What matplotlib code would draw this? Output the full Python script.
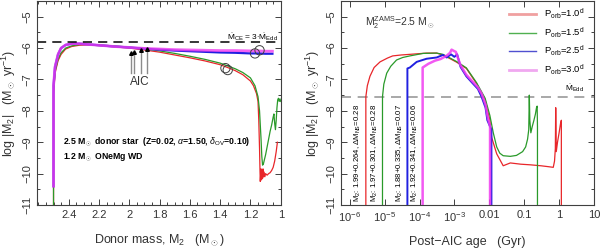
import numpy as np
import matplotlib
matplotlib.use("Agg")
import matplotlib.pyplot as plt
from matplotlib.ticker import MultipleLocator, LogLocator, NullFormatter

plt.rcParams['font.family'] = ['Liberation Sans', 'DejaVu Sans']
plt.rcParams['mathtext.fontset'] = 'custom'
plt.rcParams['mathtext.rm'] = 'Liberation Sans'
plt.rcParams['mathtext.it'] = 'Liberation Sans:italic'
plt.rcParams['mathtext.bf'] = 'Liberation Sans:bold'

# ---------------- data: left panel (log|Mdot2| vs donor mass) ----------------
red_m2 = [2.5, 2.5, 2.49, 2.47, 2.45, 2.42, 2.38, 2.33, 2.28, 2.2, 2.1, 2.0, 1.9, 1.8, 1.7,
          1.6, 1.5, 1.4, 1.35, 1.3, 1.25, 1.2, 1.18, 1.16, 1.15, 1.145, 1.14, 1.137, 1.135,
          1.13, 1.127, 1.124, 1.12, 1.117, 1.114, 1.11, 1.105, 1.10, 1.09, 1.08, 1.07, 1.06,
          1.05, 1.04, 1.03, 1.022]
red_y = [-11.0, -7.5, -6.8, -6.4, -6.2, -6.03, -5.95, -5.91, -5.9, -5.92, -5.96, -6.0, -6.06,
         -6.13, -6.22, -6.31, -6.41, -6.53, -6.62, -6.72, -6.85, -7.05, -7.2, -7.45, -7.7,
         -8.3, -9.2, -9.9, -10.25, -9.85, -10.2, -9.9, -10.15, -9.85, -10.1, -9.95, -10.1,
         -10.0, -10.05, -10.0, -9.97, -9.9, -9.8, -9.6, -9.3, -9.0]

green_m2 = [2.5, 2.5, 2.49, 2.47, 2.45, 2.42, 2.38, 2.33, 2.28, 2.2, 2.1, 2.0, 1.9, 1.8, 1.7,
            1.6, 1.5, 1.4, 1.35, 1.3, 1.25, 1.2, 1.17, 1.15, 1.14, 1.13, 1.125, 1.12, 1.115,
            1.11, 1.1, 1.09, 1.08, 1.07, 1.06, 1.05, 1.045, 1.04, 1.035, 1.03, 1.025, 1.02,
            1.015, 1.01, 1.005, 1.0]
green_y = [-11.0, -7.4, -6.75, -6.35, -6.15, -6.0, -5.93, -5.89, -5.88, -5.9, -5.93, -5.97,
           -6.02, -6.09, -6.17, -6.26, -6.36, -6.48, -6.57, -6.66, -6.78, -6.95, -7.2, -7.55,
           -8.0, -8.9, -9.45, -9.73, -9.7, -9.6, -9.4, -9.15, -8.9, -8.65, -8.45, -8.2, -8.1,
           -8.4, -8.6, -8.3, -7.9, -7.65, -7.6, -7.7, -7.62, -7.7]

blue_m2 = [2.5, 2.5, 2.49, 2.47, 2.45, 2.42, 2.38, 2.33, 2.28, 2.2, 2.1, 2.0, 1.9, 1.8, 1.7,
           1.6, 1.5, 1.4, 1.3, 1.2, 1.15, 1.1, 1.055]
blue_y = [-10.4, -7.2, -6.6, -6.2, -6.0, -5.9, -5.86, -5.86, -5.88, -5.91, -5.95, -5.98,
          -6.02, -6.05, -6.08, -6.1, -6.12, -6.14, -6.15, -6.17, -6.17, -6.18, -6.18]

mag_m2 = [2.5, 2.5, 2.49, 2.47, 2.45, 2.42, 2.38, 2.33, 2.28, 2.2, 2.1, 2.0, 1.9, 1.8, 1.7,
          1.6, 1.5, 1.4, 1.3, 1.2, 1.15, 1.1, 1.055]
mag_y = [-10.4, -7.2, -6.6, -6.2, -6.0, -5.9, -5.86, -5.86, -5.88, -5.91, -5.95, -5.98,
         -6.01, -6.03, -6.05, -6.06, -6.07, -6.08, -6.08, -6.09, -6.09, -6.1, -6.1]

circle_m2 = [1.365, 1.35, 1.17, 1.14]
circle_y = [-6.64, -6.7, -6.17, -6.07]

aic_m2 = [1.99, 1.97, 1.92, 1.88]
aic_tip = [-6.15, -6.12, -6.07, -6.02]
aic_base = -6.78

mdot_ce = -5.81

# ---------------- data: right panel (log|Mdot2| vs post-AIC age) ----------------
red_t = [2.9e-6, 2.9e-6, 3.2e-6, 3.8e-6, 5e-6, 7.4e-6, 1.2e-5, 1.7e-5, 3e-5, 5.3e-5, 1.6e-4,
         3.1e-4, 4.7e-4, 7e-4, 1.16e-3, 2.2e-3, 4.3e-3, 7.6e-3, 1.04e-2, 1.17e-2, 1.63e-2,
         2.5e-2, 4e-2, 8e-2, 0.15, 0.3, 0.5, 0.68, 0.74, 0.78, 0.8, 0.83, 0.9, 1.0, 1.1, 1.16,
         1.16]
red_r = [-11.0, -7.55, -7.2, -6.9, -6.62, -6.44, -6.32, -6.25, -6.22, -6.2, -6.16, -6.16,
         -6.22, -6.32, -6.45, -6.65, -7.13, -7.65, -8.3, -8.85, -9.37, -9.75, -9.66, -9.7,
         -9.72, -9.75, -9.78, -9.8, -9.6, -9.2, -7.9, -9.3, -9.0, -8.7, -8.4, -8.3, -11.0]

green_t = [8.7e-6, 8.7e-6, 9.5e-6, 1.15e-5, 1.5e-5, 2.2e-5, 3.3e-5, 5.3e-5, 1.27e-4, 3.1e-4,
           4.7e-4, 7e-4, 1.16e-3, 2.2e-3, 4.3e-3, 7.6e-3, 1.04e-2, 1.3e-2, 1.63e-2, 2e-2,
           2.5e-2, 4e-2, 6e-2, 9e-2, 0.11, 0.125, 0.135, 0.14, 0.145, 0.155, 0.17, 0.19, 0.21,
           0.225, 0.235, 0.24, 0.24]
green_r = [-11.0, -7.55, -7.15, -6.8, -6.58, -6.38, -6.3, -6.25, -6.17, -6.16, -6.2, -6.3,
           -6.43, -6.63, -7.1, -7.6, -8.15, -8.7, -9.15, -9.35, -9.43, -9.45, -9.42, -9.3,
           -9.15, -8.9, -8.6, -7.5, -8.3, -8.7, -8.5, -8.3, -8.1, -7.9, -7.85, -8.5, -11.0]

blue_t = [4.5e-5, 4.5e-5, 5.3e-5, 8.3e-5, 1.6e-4, 3.1e-4, 4.7e-4, 6e-4, 8e-4, 1.0e-3, 1.2e-3,
          1.5e-3, 2.2e-3, 3.2e-3, 4.7e-3, 6e-3, 7.8e-3, 8.8e-3, 1.15e-2, 1.15e-2]
blue_r = [-11.0, -6.65, -6.62, -6.44, -6.34, -6.3, -6.22, -6.3, -6.2, -6.28, -6.2, -6.6,
          -6.9, -7.1, -7.3, -7.55, -7.9, -8.3, -8.6, -11.0]

mag_t = [1.23e-4, 1.23e-4, 1.4e-4, 1.8e-4, 2.8e-4, 4e-4, 5.9e-4, 7.5e-4, 8.3e-4, 1.0e-3,
         1.1e-3, 1.2e-3, 1.5e-3, 2.2e-3, 3.2e-3, 4.7e-3, 6e-3, 7.8e-3, 9e-3, 1.05e-2, 1.05e-2]
mag_r = [-11.0, -6.62, -6.58, -6.5, -6.4, -6.35, -6.25, -6.15, -6.05, -6.1, -6.12, -6.25,
         -6.55, -6.85, -7.05, -7.25, -7.45, -7.8, -8.2, -8.5, -11.0]

mdot_edd = -7.55

label_t = [1.75e-6, 5.4e-6, 2.7e-5, 7.4e-5]
label_txt = [r'M$_2$: 1.99+0.264, $\Delta$M$_{\rm NS}$=0.28',
             r'M$_2$: 1.97+0.301, $\Delta$M$_{\rm NS}$=0.28',
             r'M$_2$: 1.88+0.335, $\Delta$M$_{\rm NS}$=0.07',
             r'M$_2$: 1.92+0.341, $\Delta$M$_{\rm NS}$=0.06']

porb_labels = [r'P$_{\rm orb}$=1.0$^{\rm d}$', r'P$_{\rm orb}$=1.5$^{\rm d}$',
               r'P$_{\rm orb}$=2.5$^{\rm d}$', r'P$_{\rm orb}$=3.0$^{\rm d}$']

xt_right = [1e-6, 1e-5, 1e-4, 1e-3, 1e-2, 1e-1, 1, 10]
xt_right_lab = [r'10$^{-6}$', r'10$^{-5}$', r'10$^{-4}$', r'10$^{-3}$', '0.01', '0.1', '1', '10']

# colours
c_red = '#e8262a'
c_green = '#2a9a2a'
c_blue = '#2020e0'
c_mag = '#f03cf0'
leg_cols = ['#f0a0a0', '#50b050', '#5050d0', '#f0a8f0']

frame_col = '0.25'
fs_tick = 8

fig = plt.figure(figsize=(6.0, 2.48), dpi=100)
axL = fig.add_axes([0.0622, 0.1734, 0.4057, 0.8226])
axR = fig.add_axes([0.5683, 0.1734, 0.4217, 0.8226])


def style(ax):
    for s in ax.spines.values():
        s.set_color(frame_col)
        s.set_linewidth(0.8)
    ax.tick_params(which='both', direction='in', top=True, right=True, colors=frame_col,
                   labelcolor='0.2', labelsize=fs_tick, width=0.7)
    ax.tick_params(which='major', length=4)
    ax.tick_params(which='minor', length=2)
    ax.set_ylim(-11, -4.5)
    ax.yaxis.set_major_locator(MultipleLocator(1))
    ax.yaxis.set_minor_locator(MultipleLocator(0.5))
    ax.set_ylabel(r'log |$\dot{\rm M}_2$|   (M$_\odot$ yr$^{-1}$)', fontsize=9, color='0.2',
                  labelpad=3)

# ---- left panel ----
style(axL)
axL.set_xlim(2.607, 1.0)
axL.xaxis.set_minor_locator(MultipleLocator(0.05))
axL.set_xticks([2.4, 2.2, 2.0, 1.8, 1.6, 1.4, 1.2, 1.0])
axL.set_xticklabels(['2.4', '2.2', '2', '1.8', '1.6', '1.4', '1.2', '1'])
for lab in axL.get_yticklabels():
    lab.set_rotation(90)
    lab.set_va('center')

axL.plot(red_m2, red_y, color=c_red, lw=0.9)
axL.plot(green_m2, green_y, color=c_green, lw=0.9)
axL.plot(blue_m2, blue_y, color=c_blue, lw=1.6)
axL.plot(mag_m2, mag_y, color=c_mag, lw=2.0, alpha=0.8)
axL.axhline(mdot_ce, color='k', lw=1.1, ls=(0, (6, 4)))
axL.scatter(circle_m2, circle_y, s=45, facecolors='none', edgecolors='0.25', lw=0.7, zorder=5)
for m, tip in zip(aic_m2, aic_tip):
    axL.plot([m, m], [aic_base, tip], color='0.55', lw=1.0)
    axL.plot([m], [tip], marker='^', color='k', ms=2.6)
axL.text(1.93, -7.08, 'AIC', fontsize=8.5, ha='center', va='center', color='0.2')
axL.text(1.018, -5.66, r'$\dot{\rm M}_{\rm CE}$ = 3$\cdot\dot{\rm M}_{\rm Edd}$', fontsize=6,
         ha='right', va='center')
axL.text(2.437, -8.99,
         r'2.5 M$_\odot$ donor star  (Z=0.02, $\alpha$=1.50, $\delta_{\rm OV}$=0.10)',
         fontsize=6.3, ha='left', va='center', fontweight='bold')
axL.text(2.437, -9.47, r'1.2 M$_\odot$ ONeMg WD', fontsize=6.3, ha='left', va='center',
         fontweight='bold')
axL.set_xlabel(r'Donor mass, M$_2$   (M$_\odot$)', fontsize=9, color='0.2', labelpad=9)

# ---- right panel ----
style(axR)
axR.set_xscale('log')
axR.set_xlim(10 ** -6.25, 10)
axR.xaxis.set_minor_locator(LogLocator(base=10, subs=np.arange(2, 10)))
axR.xaxis.set_minor_formatter(NullFormatter())
axR.set_xticks(xt_right)
axR.set_xticklabels(xt_right_lab)
for lab in axR.get_yticklabels():
    lab.set_rotation(90)
    lab.set_va('center')

axR.axhline(mdot_edd, color='0.6', lw=1.2, ls=(0, (6, 4)))
axR.plot(red_t, red_r, color=c_red, lw=0.9)
axR.plot(green_t, green_r, color=c_green, lw=0.9)
axR.plot(blue_t, blue_r, color=c_blue, lw=1.4)
axR.plot(mag_t, mag_r, color=c_mag, lw=1.8, alpha=0.85)
for t, s in zip(label_t, label_txt):
    axR.text(t, -10.92, s, rotation=90, fontsize=5.6, ha='center', va='bottom')
axR.text(2.8e-6, -5.2, r'M$_2^{\rm ZAMS}$=2.5 M$_\odot$', fontsize=7.5, ha='left',
         va='center', color='0.2')
axR.text(5.2, -7.28, r'$\dot{\rm M}_{\rm Edd}$', fontsize=6, ha='right', va='center')

handles = [plt.Line2D([], [], color=c, lw=lw) for c, lw in zip(leg_cols, [2.0, 1.0, 1.0, 2.0])]
axR.legend(handles, porb_labels, loc='upper right', bbox_to_anchor=(0.985, 1.0),
           frameon=False, fontsize=6.8, handlelength=2.8, labelspacing=0.5,
           handletextpad=0.9, borderaxespad=0.2)
axR.set_xlabel('Post\u2212AIC age   (Gyr)', fontsize=9, color='0.2', labelpad=9)

fig.savefig('out.png', dpi=100)
